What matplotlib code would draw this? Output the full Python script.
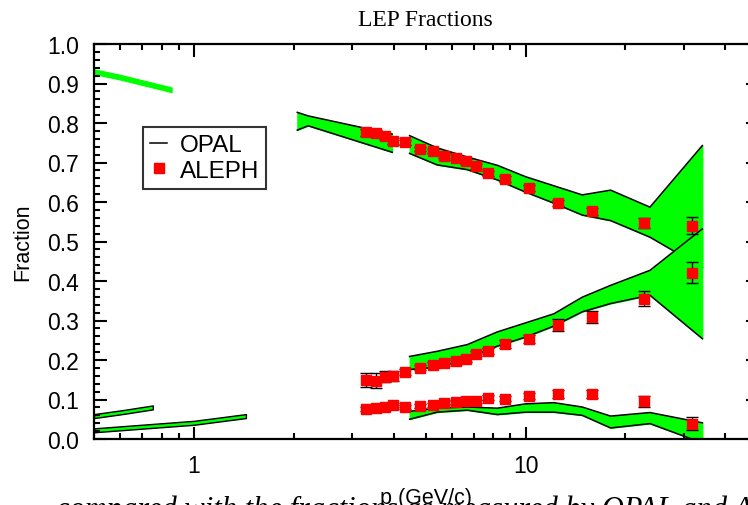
import matplotlib
matplotlib.use("Agg")
import matplotlib.pyplot as plt
from matplotlib.lines import Line2D
from matplotlib.ticker import MultipleLocator, LogLocator, FixedLocator, NullFormatter
import numpy as np

# ---------------- data ----------------
# OPAL bands (low momentum)
opal_pi_lo_p = [0.5, 0.6, 0.857]
opal_pi_lo_c = [0.930, 0.916, 0.884]
opal_k_lo_p = [0.5, 0.62, 0.752]
opal_k_lo_c = [0.058, 0.069, 0.080]
opal_pr_lo_p = [0.5, 1.0, 1.435]
opal_pr_lo_c = [0.022, 0.041, 0.058]
opal_lo_halfwidth = 0.005

# OPAL bands (high momentum)
opal_pi_mid_p = [2.05, 2.21, 3.96]
opal_pi_mid_hi = [0.827, 0.818, 0.772]
opal_pi_mid_lo = [0.782, 0.793, 0.726]

opal_hi_p = [4.47, 5.41, 6.67, 8.21, 10.0, 12.17, 14.81, 18.04, 23.7, 34.1]
opal_pi_hi = [0.768, 0.737, 0.714, 0.693, 0.664, 0.641, 0.618, 0.630, 0.587, 0.743]
opal_pi_lo = [0.723, 0.694, 0.682, 0.656, 0.625, 0.597, 0.567, 0.553, 0.511, 0.434]
opal_k_hi = [0.209, 0.222, 0.239, 0.271, 0.294, 0.317, 0.359, 0.389, 0.427, 0.532]
opal_k_lo = [0.176, 0.182, 0.203, 0.235, 0.258, 0.286, 0.322, 0.343, 0.364, 0.254]
opal_pr_hi = [0.070, 0.078, 0.081, 0.078, 0.089, 0.092, 0.081, 0.058, 0.067, 0.041]
opal_pr_lo = [0.050, 0.068, 0.073, 0.062, 0.068, 0.068, 0.060, 0.028, 0.039, -0.010]

# ALEPH points
aleph_p = [3.30, 3.55, 3.78, 3.99, 4.32, 4.79, 5.24, 5.68, 6.15, 6.60,
           7.07, 7.71, 8.65, 10.23, 12.51, 15.88, 22.73, 31.79]
aleph_pi = [0.776, 0.775, 0.766, 0.755, 0.751, 0.734, 0.729, 0.717, 0.712, 0.703,
            0.690, 0.673, 0.658, 0.635, 0.597, 0.576, 0.547, 0.540]
aleph_pi_err = [0.008, 0.008, 0.007, 0.007, 0.006, 0.006, 0.006, 0.006, 0.006, 0.006,
                0.006, 0.006, 0.007, 0.008, 0.008, 0.010, 0.013, 0.022]
aleph_k = [0.149, 0.148, 0.158, 0.159, 0.170, 0.181, 0.187, 0.192, 0.197, 0.202,
           0.216, 0.223, 0.241, 0.254, 0.288, 0.309, 0.355, 0.421]
aleph_k_err = [0.018, 0.018, 0.013, 0.013, 0.008, 0.007, 0.007, 0.007, 0.007, 0.007,
               0.007, 0.008, 0.010, 0.010, 0.015, 0.015, 0.019, 0.026]
aleph_pr = [0.077, 0.078, 0.080, 0.087, 0.080, 0.084, 0.086, 0.090, 0.094, 0.097,
            0.095, 0.105, 0.102, 0.109, 0.115, 0.113, 0.095, 0.039]
aleph_pr_err = [0.005, 0.005, 0.005, 0.005, 0.005, 0.005, 0.005, 0.005, 0.005, 0.005,
                0.005, 0.006, 0.006, 0.007, 0.010, 0.010, 0.014, 0.016]

xticks = [1, 10]
xticklabels = ["1", "10"]
yticks = [0.0, 0.1, 0.2, 0.3, 0.4, 0.5, 0.6, 0.7, 0.8, 0.9, 1.0]
legend_labels = ["OPAL", "ALEPH"]

GREEN = "#00ff00"
RED = "#ff0000"

# ---------------- figure ----------------
fig = plt.figure(figsize=(7.48, 5.06), dpi=100)
W, H = 748, 506
x0, x1, ytop, ybot = 94, 757.5, 45, 440
ax = fig.add_axes([x0 / W, (H - ybot) / H, (x1 - x0) / W, (ybot - ytop) / H])
ax.set_xscale("log")
ax.set_xlim(0.5, 50)
ax.set_ylim(0.0, 1.0)

sans = "Liberation Sans"
serif = "Liberation Serif"

# low momentum bands
p = np.array(opal_pi_lo_p); c = np.array(opal_pi_lo_c)
ax.fill_between(p, c - 0.006, c + 0.006, color=GREEN, lw=0.8, zorder=1)

for pp, cc in [(opal_k_lo_p, opal_k_lo_c), (opal_pr_lo_p, opal_pr_lo_c)]:
    pp = np.array(pp); cc = np.array(cc)
    ax.fill_between(pp, cc - opal_lo_halfwidth, cc + opal_lo_halfwidth,
                    facecolor=GREEN, edgecolor="black", lw=1.0, zorder=1)

# pion band mid segment
ax.fill_between(opal_pi_mid_p, opal_pi_mid_lo, opal_pi_mid_hi, color=GREEN, lw=0.8, zorder=1)
ax.plot(opal_pi_mid_p, opal_pi_mid_hi, color="black", lw=1.1, zorder=1.1)
ax.plot(opal_pi_mid_p, opal_pi_mid_lo, color="black", lw=1.1, zorder=1.1)

# high momentum bands
z = 1.0
for hi, lo in [(opal_pi_hi, opal_pi_lo), (opal_k_hi, opal_k_lo), (opal_pr_hi, opal_pr_lo)]:
    ax.fill_between(opal_hi_p, lo, hi, color=GREEN, lw=0.8, zorder=z)
    ax.plot(opal_hi_p, hi, color="black", lw=1.1, zorder=z + 0.05)
    ax.plot(opal_hi_p, lo, color="black", lw=1.1, zorder=z + 0.05)
    z += 0.1

# ALEPH points
for vals, errs in [(aleph_pi, aleph_pi_err), (aleph_k, aleph_k_err), (aleph_pr, aleph_pr_err)]:
    ax.errorbar(aleph_p, vals, yerr=errs, fmt="s", color=RED, mec=RED, ms=7.5,
                ecolor="black", elinewidth=1.0, capsize=4, capthick=1.0, zorder=3)

# axes styling
for s in ax.spines.values():
    s.set_linewidth(1.6)
ax.xaxis.set_major_locator(FixedLocator(xticks))
ax.set_xticklabels(xticklabels)
ax.xaxis.set_minor_locator(LogLocator(base=10, subs=np.arange(2, 10)))
ax.xaxis.set_minor_formatter(NullFormatter())
ax.set_yticks(yticks)
ax.set_yticklabels([f"{v:.1f}" for v in yticks])
ax.yaxis.set_minor_locator(MultipleLocator(0.02))
ax.tick_params(which="both", direction="in", top=True, right=True, width=1.5)
ax.tick_params(which="major", length=9, pad=11)
ax.tick_params(which="minor", length=4.5)
for lab in ax.get_xticklabels() + ax.get_yticklabels():
    lab.set_fontfamily(sans)
    lab.set_fontsize(16.5)

ax.set_xlabel("p (GeV/c)", fontfamily=sans, fontsize=15.5, labelpad=7)
ax.set_ylabel("Fraction", fontfamily=sans, fontsize=15.5, labelpad=10)
ax.set_title("LEP Fractions", fontfamily=serif, fontsize=17, pad=14)

# legend
handles = [Line2D([], [], color="black", lw=1.1),
           Line2D([], [], ls="none", marker="s", color=RED, ms=7.5)]
leg = ax.legend(handles, legend_labels, loc="upper left",
                bbox_to_anchor=((143 - x0) / (x1 - x0), (ybot - 128) / (ybot - ytop)),
                borderaxespad=0, frameon=True, fancybox=False, edgecolor="black",
                prop={"family": sans, "size": 17.5}, handlelength=0.7,
                handletextpad=0.5, borderpad=0.3, labelspacing=0.15)
leg.get_frame().set_linewidth(1.5)

# clipped caption at the bottom (only its top is visible in the picture)
fig.text(0.075, -0.024, "compared with the fractions as measured by OPAL and ALEPH",
         fontfamily=serif, style="italic", fontsize=22, ha="left", va="baseline")

fig.savefig("out.png", dpi=100)
